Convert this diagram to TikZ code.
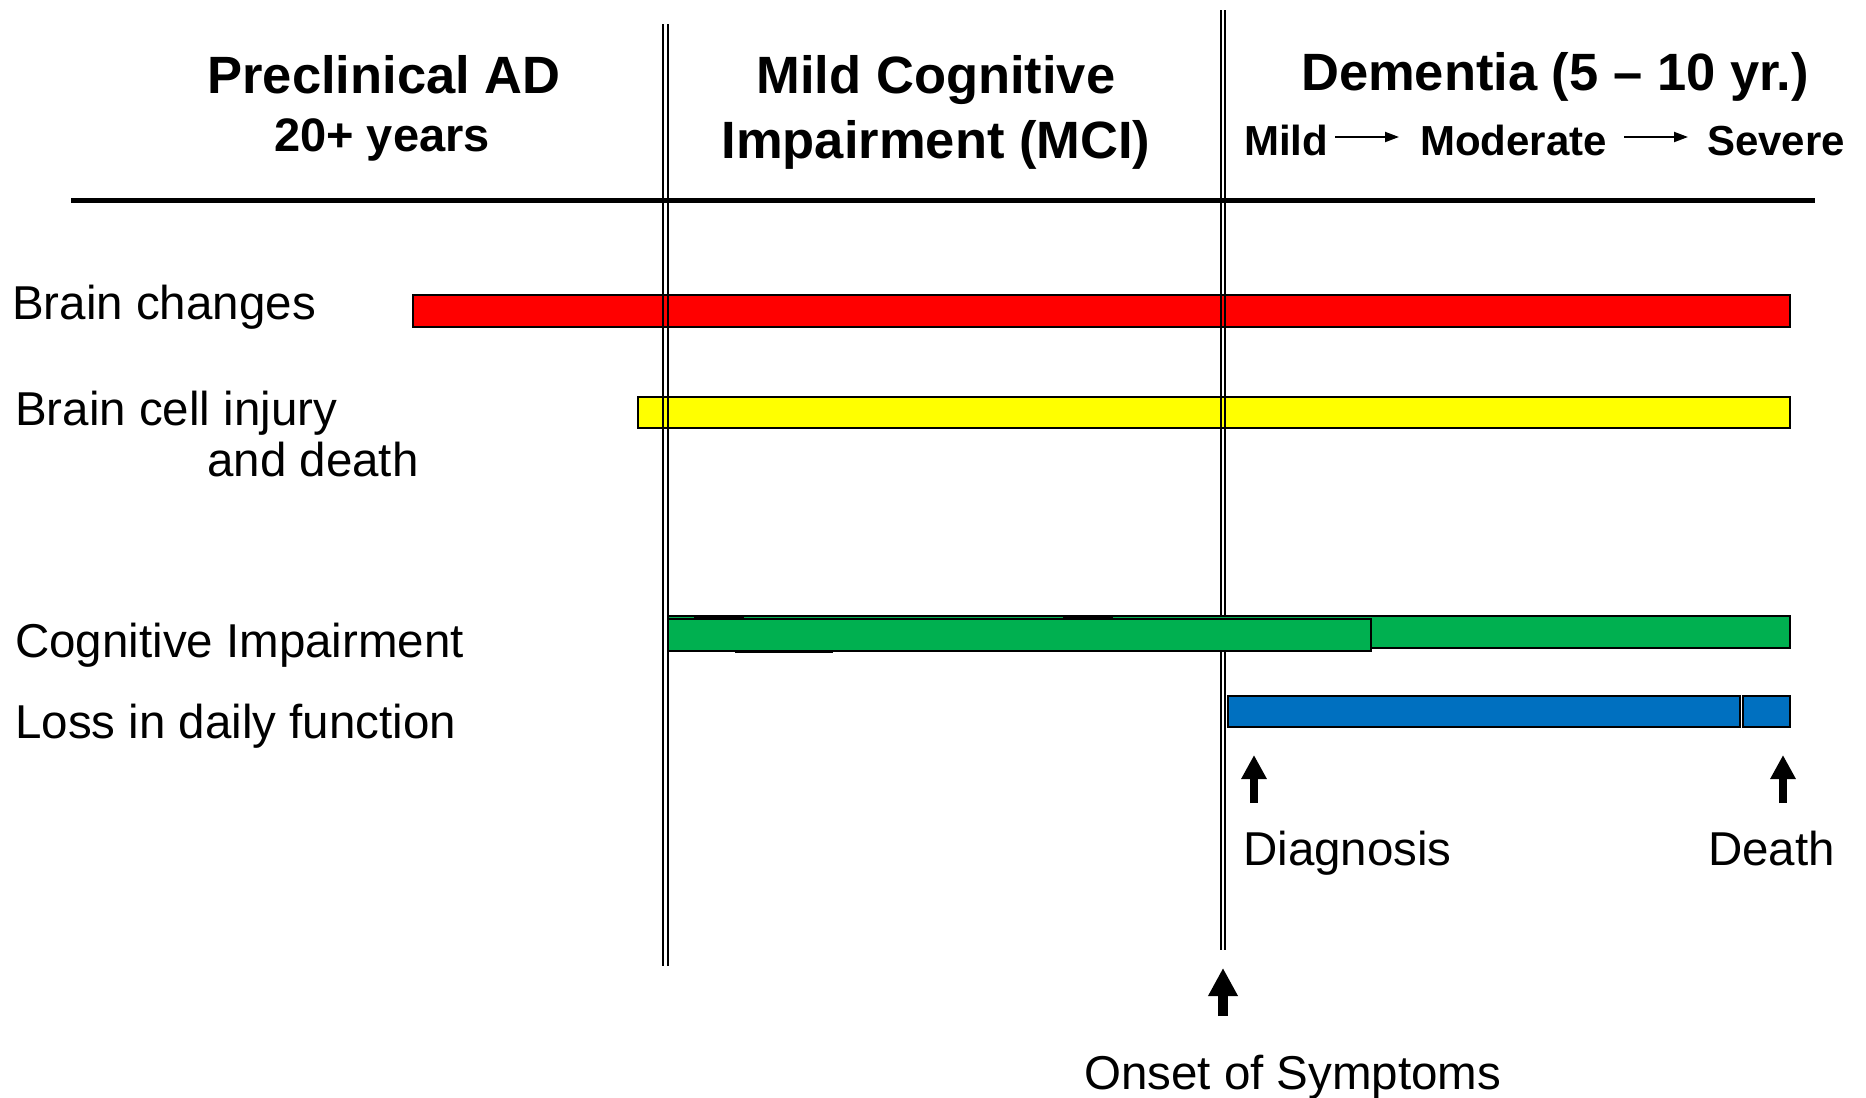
\documentclass[tikz,border=0pt]{standalone}
\usepackage{fontspec}
\setmainfont{Liberation Sans}
\usetikzlibrary{arrows.meta}
\definecolor{barred}{RGB}{255,0,0}
\definecolor{baryellow}{RGB}{255,255,0}
\definecolor{bargreen}{RGB}{0,176,80}
\definecolor{barblue}{RGB}{0,112,192}
\tikzset{
 lbl/.style={inner sep=0pt, anchor=base west, font=\fontsize{47.5bp}{57bp}\selectfont},
 hdr/.style={inner sep=0pt, anchor=base, font=\bfseries\fontsize{52.5bp}{63bp}\selectfont},
 hdrsmall/.style={inner sep=0pt, anchor=base, font=\bfseries\fontsize{47bp}{56bp}\selectfont},
 subhdr/.style={inner sep=0pt, anchor=base west, font=\bfseries\fontsize{42bp}{50bp}\selectfont},
 bar/.style={draw=black, line width=2.2bp},
 divider/.style={line width=2bp, draw=black},
 bigarrow/.style={line width=10bp, -{Triangle[length=28bp,width=28bp]}},
 midarrow/.style={line width=8.5bp, -{Triangle[length=24bp,width=24bp]}},
 thinarrow/.style={line width=2bp, -{Triangle[length=14bp,width=10bp]}},
 glitch/.style={line width=3bp, draw=black},
}
\begin{document}
\begin{tikzpicture}[x=1bp,y=-1bp]
\useasboundingbox (0,0) rectangle (1866,1097);

% header texts
\node[hdr] (pre1) at (384,93) {Preclinical AD};
\node[hdrsmall] (pre2) at (382,151) {20+ years};
\node[hdr] (mci1) at (936,93) {Mild Cognitive};
\node[hdr] (mci2) at (936,158) {Impairment (MCI)};
\node[hdr] (dem) at (1555,90) {Dementia (5 – 10 yr.)};
\node[subhdr] (mild) at (1244,155) {Mild};
\node[subhdr] (mod) at (1420,155) {Moderate};
\node[subhdr] (sev) at (1707,155) {Severe};
\coordinate (a1s) at (1335,137);
\coordinate (a1e) at (1399,137);
\coordinate (a2s) at (1624,137);
\coordinate (a2e) at (1688,137);
\draw[thinarrow] (a1s) -- (a1e);
\draw[thinarrow] (a2s) -- (a2e);

% header rule
\coordinate (ruleL) at (71,200);
\coordinate (ruleR) at (1815,200);
\draw[line width=5bp] (ruleL) -- (ruleR);

% row labels
\node[lbl] (lbrain) at (12,319) {Brain changes};
\node[lbl] (lcell1) at (15,425) {Brain cell injury};
\node[lbl] (lcell2) at (207,476) {and death};
\node[lbl] (lcog) at (15,657) {Cognitive Impairment};
\node[lbl] (lloss) at (15,738) {Loss in daily function};

% red and yellow bars
\draw[bar, fill=barred] (413,295) rectangle (1790,327);
\draw[bar, fill=baryellow] (638,397) rectangle (1790,428);

% dividers
\draw[divider] (663,24) -- (663,966);
\draw[divider] (668,24) -- (668,966);
\draw[divider] (1221,10) -- (1221,950);
\draw[divider] (1225,10) -- (1225,950);

% green bars
\draw[bar, fill=bargreen] (668,616) rectangle (1790,648);
\draw[bar, fill=bargreen] (668,619) rectangle (1371,651);
\draw[glitch] (694,616) -- (744,616);
\draw[glitch] (1063,616) -- (1113,616);
\draw[glitch] (735,651) -- (833,651);

% blue bars
\draw[bar, fill=barblue] (1228,696) rectangle (1740,727);
\draw[bar, fill=barblue] (1743,696) rectangle (1790,727);

% markers
\coordinate (dgS) at (1254,803);
\coordinate (dgT) at (1254,755);
\draw[midarrow] (dgS) -- (dgT);
\node[lbl] (diag) at (1243,865) {Diagnosis};
\coordinate (dtS) at (1783,803);
\coordinate (dtT) at (1783,755);
\draw[midarrow] (dtS) -- (dtT);
\node[lbl] (death) at (1708,865) {Death};
\coordinate (onS) at (1223,1016);
\coordinate (onT) at (1223,968);
\draw[bigarrow] (onS) -- (onT);
\node[lbl] (onset) at (1084,1089) {Onset of Symptoms};
\end{tikzpicture}
\end{document}
